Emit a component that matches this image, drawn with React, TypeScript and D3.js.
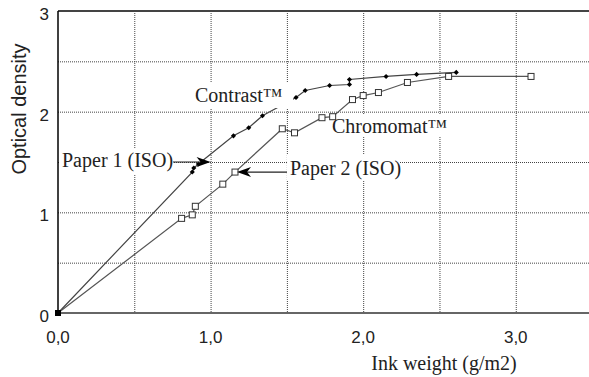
import React from 'react';
import * as d3 from 'd3';

// Contrast (filled diamonds)
const contrastX = [0, 0.88, 0.89, 0.92, 1.15, 1.25, 1.34, 1.56, 1.62, 1.78, 1.91, 1.91, 2.15, 2.35, 2.61];
const contrastY = [0, 1.4, 1.44, 1.48, 1.76, 1.84, 1.96, 2.14, 2.21, 2.26, 2.27, 2.32, 2.35, 2.37, 2.39];

// Chromomat (open squares)
const chromoX = [0, 0.81, 0.88, 0.9, 1.08, 1.16, 1.47, 1.55, 1.73, 1.8, 1.93, 2.0, 2.1, 2.29, 2.56, 3.1];
const chromoY = [0, 0.94, 0.975, 1.06, 1.28, 1.4, 1.83, 1.79, 1.94, 1.95, 2.12, 2.16, 2.19, 2.29, 2.35, 2.35];

const xTicks = [0, 1, 2, 3];
const xTickLabels = ['0,0', '1,0', '2,0', '3,0'];
const yTicks = [0, 1, 2, 3];
const gridX = [0.5, 1, 1.5, 2, 2.5, 3];
const gridY = [0.5, 1, 1.5, 2, 2.5];

// annotation targets (data units)
const paper1 = [1.0, 1.5];
const paper2 = [1.16, 1.4];

const W = 589;
const H = 377;

const App: React.FC = () => {
    const x = d3.scaleLinear().domain([0, 3.48]).range([58, 589]);
    const y = d3.scaleLinear().domain([0, 3]).range([313, 11]);

    const contrast = contrastX.map((v, i) => [v, contrastY[i]] as [number, number]);
    const chromo = chromoX.map((v, i) => [v, chromoY[i]] as [number, number]);

    const line = d3
        .line<[number, number]>()
        .x((d) => x(d[0]))
        .y((d) => y(d[1]));

    const diamond = d3.symbol(d3.symbolSquare, 13)()!;

    const serif = '"Liberation Serif", "Times New Roman", serif';
    const sans = '"Liberation Sans", Arial, sans-serif';

    const p1x = x(paper1[0]);
    const p1y = y(paper1[1]);
    const p2x = x(paper2[0]) + 2;
    const p2y = y(paper2[1]);

    return (
        <div style={{ width: W, height: H }}>
            <style>{`body{margin:0}`}</style>
            <svg width={W} height={H} style={{ display: 'block', background: '#fff' }}>
                {/* grid */}
                <g stroke="#444" strokeWidth={1} strokeDasharray="1,1">
                    {gridX.map((g) => (
                        <line key={'gx' + g} x1={x(g) + 0.5} x2={x(g) + 0.5} y1={y(3)} y2={y(0)} />
                    ))}
                    {gridY.map((g) => (
                        <line key={'gy' + g} x1={x(0)} x2={W} y1={y(g) + 0.5} y2={y(g) + 0.5} />
                    ))}
                </g>

                {/* axes */}
                <line x1={x(0)} x2={W} y1={y(3)} y2={y(3)} stroke="#444" strokeWidth={2} />
                <line x1={x(0)} x2={W} y1={y(0)} y2={y(0)} stroke="#666" strokeWidth={2} />
                <line x1={x(0)} x2={x(0)} y1={y(3)} y2={y(0)} stroke="#000" strokeWidth={1.5} />

                {/* tick labels */}
                <g fontFamily={sans} fontSize={17} fill="#222">
                    {yTicks.map((t) => (
                        <text key={'yt' + t} x={49} y={y(t) + 9} textAnchor="end">
                            {t}
                        </text>
                    ))}
                    {xTicks.map((t, i) => (
                        <text key={'xt' + t} x={x(t)} y={343} textAnchor="middle">
                            {xTickLabels[i]}
                        </text>
                    ))}
                    <text
                        transform={`translate(26,109) rotate(-90)`}
                        textAnchor="middle"
                        fontSize={20}
                    >
                        Optical density
                    </text>
                </g>
                <text x={444} y={370} textAnchor="middle" fontFamily={serif} fontSize={20} fill="#222">
                    Ink weight (g/m2)
                </text>

                {/* Chromomat label (under the line) */}
                <rect x={330} y={115} width={124} height={22} fill="#fff" />
                <text x={332} y={133} fontFamily={serif} fontSize={20} fill="#222">
                    Chromomat™
                </text>

                {/* series lines */}
                <path d={line(contrast)!} fill="none" stroke="#444" strokeWidth={1.2} />
                <path d={line(chromo)!} fill="none" stroke="#555" strokeWidth={1.2} />

                {/* markers */}
                {contrast.slice(1).map((d, i) => (
                    <path
                        key={'c' + i}
                        d={diamond}
                        transform={`translate(${x(d[0])},${y(d[1])}) rotate(45)`}
                        fill="#000"
                    />
                ))}
                {chromo.slice(1).map((d, i) => (
                    <rect
                        key={'s' + i}
                        x={x(d[0]) - 3}
                        y={y(d[1]) - 3}
                        width={6}
                        height={6}
                        fill="#fff"
                        stroke="#333"
                        strokeWidth={1}
                    />
                ))}
                <rect x={x(0) - 3} y={y(0) - 3} width={6} height={6} fill="#000" />

                {/* Contrast label (hides a bit of the line) */}
                <rect x={193} y={82} width={100} height={26} fill="#fff" />
                <text x={195} y={102} fontFamily={serif} fontSize={20} fill="#222">
                    Contrast™
                </text>

                {/* Paper 1 (ISO) */}
                <rect x={60} y={148} width={114} height={26} fill="#fff" />
                <text x={62} y={167} fontFamily={serif} fontSize={20} fill="#222">
                    Paper 1 (ISO)
                </text>
                <line x1={173} x2={p1x - 8} y1={p1y} y2={p1y} stroke="#222" strokeWidth={1} />
                <path
                    d={`M${p1x},${p1y} L${p1x - 14},${p1y - 5} L${p1x - 10},${p1y} L${p1x - 14},${p1y + 5} Z`}
                    fill="#000"
                />

                {/* Paper 2 (ISO) */}
                <rect x={287} y={155} width={113} height={26} fill="#fff" />
                <text x={290} y={175} fontFamily={serif} fontSize={20} fill="#222">
                    Paper 2 (ISO)
                </text>
                <line x1={p2x + 8} x2={287} y1={p2y} y2={p2y} stroke="#222" strokeWidth={1.2} />
                <path
                    d={`M${p2x},${p2y} L${p2x + 14},${p2y - 5} L${p2x + 10},${p2y} L${p2x + 14},${p2y + 5} Z`}
                    fill="#000"
                />
            </svg>
        </div>
    );
};

export default App;
